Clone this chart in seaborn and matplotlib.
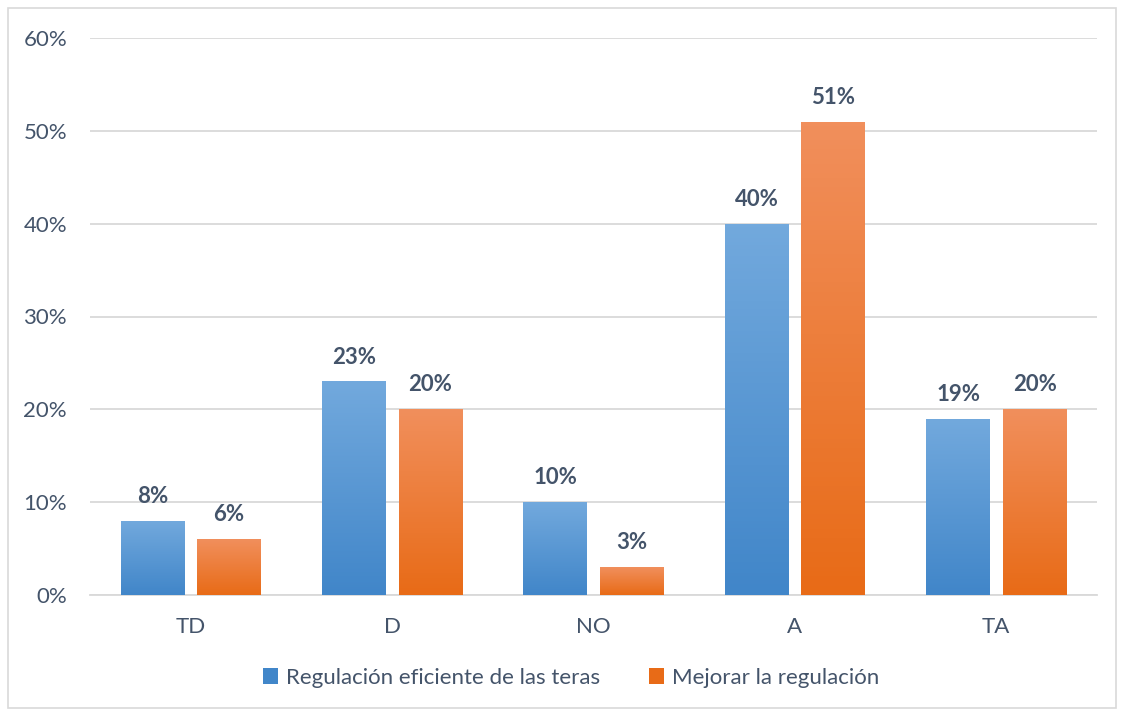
import numpy as np
import pandas as pd
import matplotlib
matplotlib.use("Agg")
import matplotlib.pyplot as plt
from matplotlib.patches import Rectangle
from matplotlib.colors import LinearSegmentedColormap
import seaborn as sns

categories = ["TD", "D", "NO", "A", "TA"]
serie_a = [8, 23, 10, 40, 19]
serie_b = [6, 20, 3, 51, 20]
series_names = ["Regulación eficiente de las teras", "Mejorar la regulación"]
yticks = [0, 10, 20, 30, 40, 50, 60]

df = pd.DataFrame({
    "cat": categories * 2,
    "val": serie_a + serie_b,
    "serie": [series_names[0]] * 5 + [series_names[1]] * 5,
})

sns.set_theme(style="white")
plt.rcParams['font.family'] = ['Lato', 'DejaVu Sans']
txt = "#44546A"
fs = 16

fig = plt.figure(figsize=(11.22, 7.13), dpi=100)
ax = fig.add_axes([90/1122, 1-595/713, 1007/1122, (595-38)/713])

grads = {
    series_names[0]: ("#72a9dd", "#4186c9"),
    series_names[1]: ("#f18f5c", "#e86b17"),
}
sns.barplot(data=df, x="cat", y="val", hue="serie", order=categories,
            hue_order=series_names, palette=[grads[s][1] for s in series_names],
            width=0.76, gap=0.17, ax=ax, legend=False, zorder=3)

ax.set_ylim(0, 60)
ax.set_xlim(-0.5, 4.5)
ax.set_yticks(yticks)
ax.set_yticklabels([f"{v}%" for v in yticks])
ax.yaxis.grid(True, color="#D9D9D9", linewidth=1.3, zorder=0)
ax.set_axisbelow(True)
for s in ["top", "right", "left"]:
    ax.spines[s].set_visible(False)
ax.spines["bottom"].set_color("#D9D9D9")
ax.spines["bottom"].set_linewidth(1.3)
ax.tick_params(axis="both", length=0, labelsize=fs, colors=txt)
ax.tick_params(axis="x", pad=16)
ax.tick_params(axis="y", pad=16.5)
ax.set_xlabel("")
ax.set_ylabel("")

patches = [p for p in ax.patches if p.get_height() > 0]
for i, p in enumerate(patches):
    sname = series_names[0] if i < 5 else series_names[1]
    top, bot = grads[sname]
    cmap = LinearSegmentedColormap.from_list("g", [bot, top])
    x0, w, h = p.get_x(), p.get_width(), p.get_height()
    grad = np.linspace(0, 1, 100).reshape(-1, 1)
    im = ax.imshow(grad, cmap=cmap, aspect="auto", origin="lower",
                   extent=[x0, x0 + w, 0, h], zorder=3)
    im.set_clip_path(p)
    p.set_facecolor("none")
    p.set_edgecolor("none")
    ax.annotate(f"{int(round(h))}%", (x0 + w/2, h), xytext=(0, 10),
                textcoords="offset points", ha="center", va="bottom",
                fontsize=fs, fontweight="bold", color=txt)
ax.set_xlim(-0.5, 4.5)
ax.set_ylim(0, 60)

handles = [Rectangle((0, 0), 1, 1, facecolor=grads[s][1], edgecolor="none") for s in series_names]
fig.legend(handles, series_names, loc="center", bbox_to_anchor=(571/1122, 1-678/713),
           ncol=2, frameon=False, fontsize=fs, labelcolor=txt,
           handlelength=0.7, handleheight=0.7, handletextpad=0.35, columnspacing=2.2)

fig.add_artist(Rectangle((8/1122, 1-708/713), 1108/1122, 700/713, transform=fig.transFigure,
                         fill=False, edgecolor="#D9D9D9", linewidth=1.2))

fig.savefig("out.png", dpi=100)
